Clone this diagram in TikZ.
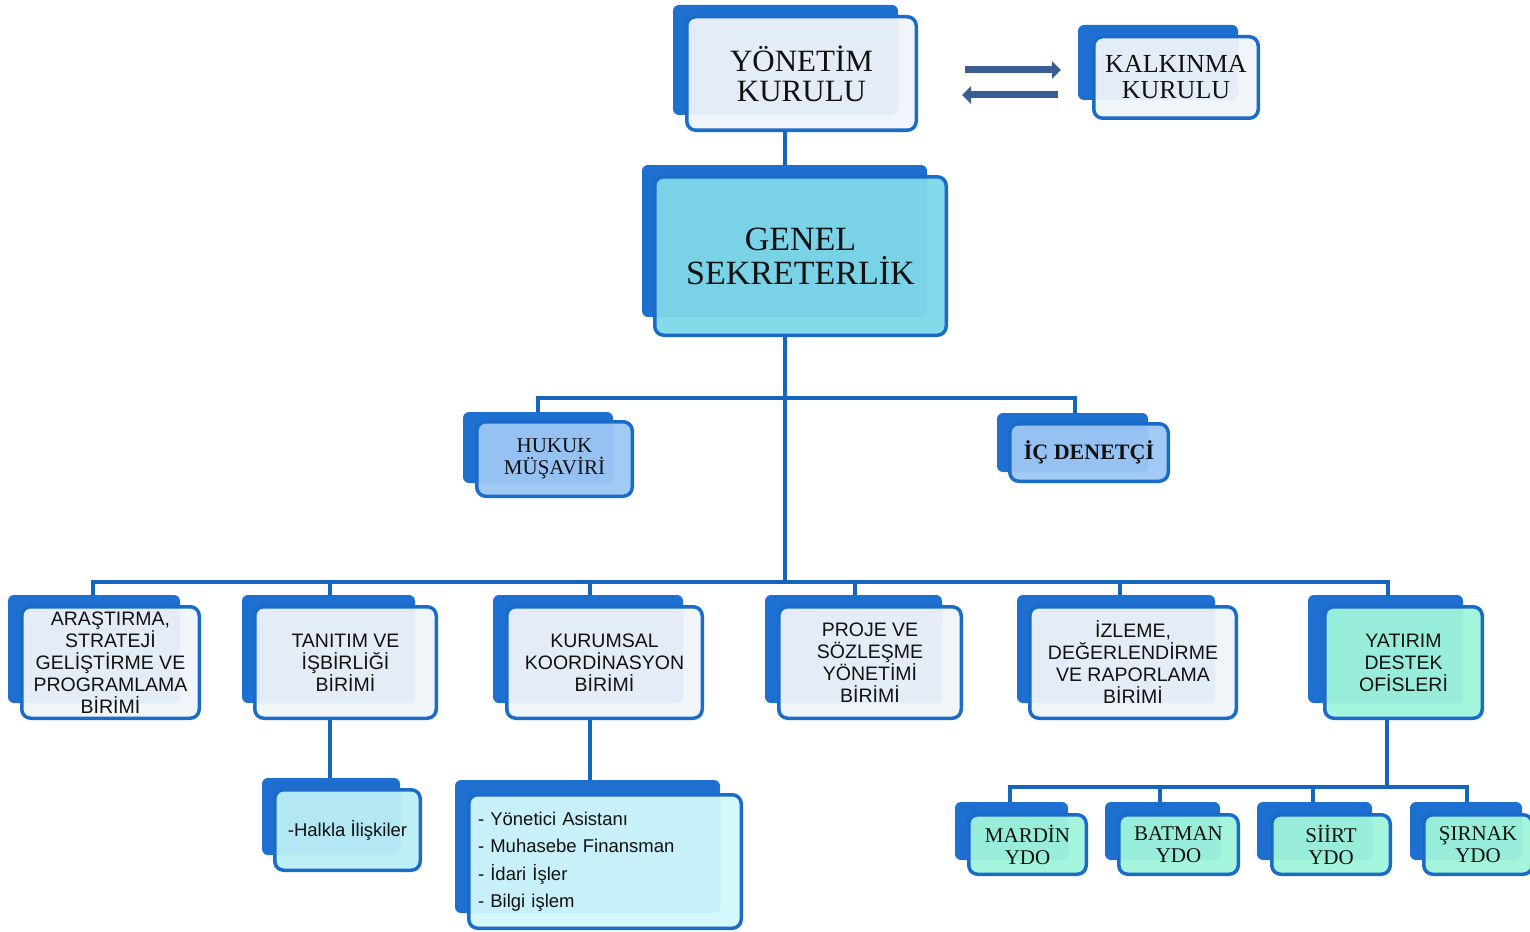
\documentclass[tikz,border=0pt]{standalone}
\usepackage{fontspec}
\setmainfont{Liberation Serif}
\setsansfont{Liberation Sans}
\usetikzlibrary{arrows.meta}
\pgfdeclarelayer{bg}
\pgfsetlayers{bg,main}
\definecolor{bblue}{HTML}{1B6BC9}
\definecolor{backblue}{HTML}{1E70D0}
\definecolor{conncol}{HTML}{1766BE}
\definecolor{arrcol}{HTML}{3A5E92}
\definecolor{paleblue}{HTML}{EFF4FA}
\definecolor{gscyan}{HTML}{7ED8E8}
\definecolor{lblue}{HTML}{9CC7F4}
\definecolor{mint}{HTML}{9EF4DA}
\definecolor{halk}{HTML}{BCEEF5}
\definecolor{muh}{HTML}{D2F7FB}
\definecolor{txt}{HTML}{111111}
\tikzset{
  backbox/.style={fill=backblue, rounded corners=6pt},
  frontbox/.style={draw=bblue, line width=3.5pt, rounded corners=9pt,
    fill opacity=0.95, text opacity=1, inner sep=0pt, align=center, text=txt},
  fsize/.style n args={2}{minimum width=#1-3.5, minimum height=#2-3.5},
  conn/.style={draw=conncol, line width=4pt},
  bigarrow/.style={draw=arrcol, line width=7pt, -{Triangle[length=9pt,width=17pt]}},
  rowtext/.style={font=\sffamily\fontsize{19.5}{22}\selectfont},
  ydotext/.style={font=\fontsize{21}{22}\selectfont},
}
\begin{document}
\begin{tikzpicture}[x=1pt,y=-1pt]
\useasboundingbox (0,0) rectangle (1530,931);

% top level
\fill[backbox] (673,5) rectangle (898,115);
\node[frontbox, fill=paleblue, fsize={233}{117}, font=\fontsize{31}{30}\selectfont] (yk) at (801.5,73.5) {YÖNETİM\\KURULU};

\fill[backbox] (1078,25) rectangle (1238,100);
\node[frontbox, fill=paleblue, fsize={168}{85}, font=\fontsize{26}{26}\selectfont] (kk) at (1176,77.5) {KALKINMA\\KURULU};

\coordinate (r1s) at (965,70);
\coordinate (r1e) at (1061,70);
\coordinate (r2s) at (1058,95);
\coordinate (r2e) at (962,95);
\draw[bigarrow] (r1s) -- (r1e);
\draw[bigarrow] (r2s) -- (r2e);

\fill[backbox] (642,165) rectangle (927,317);
\node[frontbox, fill=gscyan, fsize={295}{162}, font=\fontsize{34}{34}\selectfont] (gs) at (800.5,256) {GENEL\\SEKRETERLİK};

% advisors
\fill[backbox] (463,412) rectangle (613,483);
\node[frontbox, fill=lblue, fsize={159}{78}, font=\fontsize{21}{22}\selectfont] (hm) at (554.5,459) {HUKUK\\MÜŞAVİRİ};

\fill[backbox] (997,413) rectangle (1148,472);
\node[frontbox, fill=lblue, fsize={162}{61}, font=\bfseries\fontsize{22}{22}\selectfont] (id) at (1089,452.5) {İÇ DENETÇİ};

% units row
\fill[backbox] (8,595) rectangle (180,703);
\node[frontbox, fill=paleblue, fsize={181}{115}, rowtext] (ar) at (110.5,662.5) {ARAŞTIRMA,\\STRATEJİ\\GELİŞTİRME VE\\PROGRAMLAMA\\BİRİMİ};

\fill[backbox] (242,595) rectangle (415,703);
\node[frontbox, fill=paleblue, fsize={185}{115}, rowtext] (tn) at (345.5,662.5) {TANITIM VE\\İŞBİRLİĞİ\\BİRİMİ};

\fill[backbox] (493,595) rectangle (683,703);
\node[frontbox, fill=paleblue, fsize={199}{115}, rowtext] (kr) at (604.5,662.5) {KURUMSAL\\KOORDİNASYON\\BİRİMİ};

\fill[backbox] (765,595) rectangle (942,703);
\node[frontbox, fill=paleblue, fsize={186}{115}, rowtext] (pj) at (870,662.5) {PROJE VE\\SÖZLEŞME\\YÖNETİMİ\\BİRİMİ};

\fill[backbox] (1017,595) rectangle (1215,703);
\node[frontbox, fill=paleblue, fsize={210}{115}, rowtext] (iz) at (1133,662.5) {İZLEME,\\DEĞERLENDİRME\\VE RAPORLAMA\\BİRİMİ};

\fill[backbox] (1308,595) rectangle (1463,703);
\node[frontbox, fill=mint, fsize={161}{115}, rowtext] (yt) at (1403.5,662.5) {YATIRIM\\DESTEK\\OFİSLERİ};

% sub units
\fill[backbox] (262,778) rectangle (400,855);
\node[frontbox, fill=halk, fsize={149}{84}, font=\sffamily\fontsize{18.5}{22}\selectfont] (hl) at (347.5,830) {-Halkla İlişkiler};

\fill[backbox] (455,780) rectangle (720,913);
\node[frontbox, fill=muh, fsize={276}{137}, align=left, text width=254pt, inner xsep=9.25pt, font=\sffamily\fontsize{18.5}{27.5}\selectfont] (mh) at (605,861.5) {- Yönetici Asistanı\\- Muhasebe Finansman\\- İdari İşler\\- Bilgi işlem};

\fill[backbox] (955,802) rectangle (1068,860);
\node[frontbox, fill=mint, fsize={121}{63}, ydotext] (md) at (1027.5,844.5) {MARDİN\\YDO};

\fill[backbox] (1105,802) rectangle (1220,860);
\node[frontbox, fill=mint, fsize={123}{63}, ydotext] (bt) at (1178.5,844.5) {BATMAN\\YDO};

\fill[backbox] (1257,802) rectangle (1372,860);
\node[frontbox, fill=mint, fsize={122}{63}, ydotext] (si) at (1331,844.5) {SİİRT\\YDO};

\fill[backbox] (1410,802) rectangle (1522,860);
\node[frontbox, fill=mint, fsize={112}{63}, ydotext] (sr) at (1478,844.5) {ŞIRNAK\\YDO};

% connectors
\begin{pgfonlayer}{bg}
\coordinate (trunk) at (785,0);
\coordinate (b1) at (785,398);
\coordinate (b2) at (785,582);
\draw[conn] (yk.south -| trunk) -- (gs.north -| trunk);
\draw[conn] (gs.south -| trunk) -- (b2);
\coordinate (hx) at (538,398);
\coordinate (dx) at (1075,398);
\draw[conn] (hm.north -| hx) -- (hx) -- (dx) -- (id.north -| dx);
\coordinate (a1) at (93,582);
\coordinate (a2) at (330,582);
\coordinate (a3) at (590,582);
\coordinate (a4) at (855,582);
\coordinate (a5) at (1120,582);
\coordinate (a6) at (1388,582);
\draw[conn] (ar.north -| a1) -- (a1) -- (a6) -- (yt.north -| a6);
\draw[conn] (a2) -- (tn.north -| a2);
\draw[conn] (a3) -- (kr.north -| a3);
\draw[conn] (a4) -- (pj.north -| a4);
\draw[conn] (a5) -- (iz.north -| a5);
\draw[conn] (tn.south -| a2) -- (hl.north -| a2);
\draw[conn] (kr.south -| a3) -- (mh.north -| a3);
\coordinate (c0) at (1387,787);
\coordinate (c1) at (1010,787);
\coordinate (c2) at (1160,787);
\coordinate (c3) at (1313,787);
\coordinate (c4) at (1467,787);
\draw[conn] (yt.south -| c0) -- (c0);
\draw[conn] (md.north -| c1) -- (c1) -- (c4) -- (sr.north -| c4);
\draw[conn] (c2) -- (bt.north -| c2);
\draw[conn] (c3) -- (si.north -| c3);
\end{pgfonlayer}
\end{tikzpicture}
\end{document}
